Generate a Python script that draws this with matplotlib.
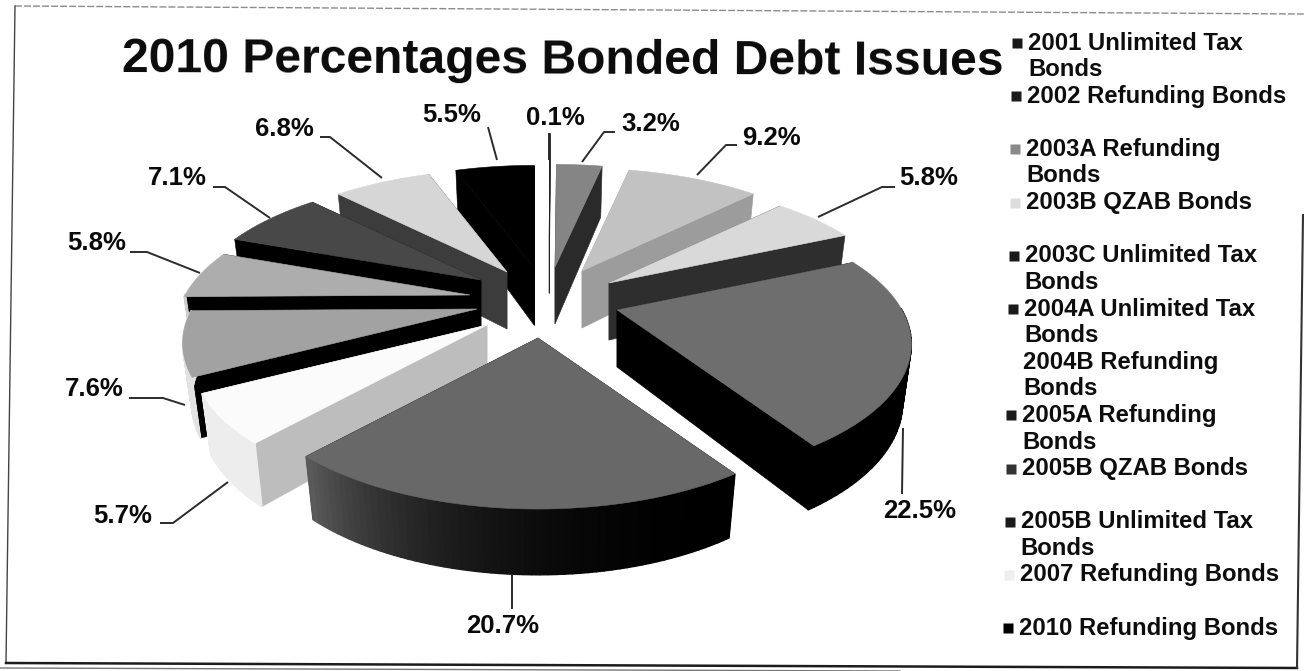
import numpy as np
import matplotlib
matplotlib.use('Agg')
import matplotlib.pyplot as plt
from matplotlib.colors import to_rgb
from matplotlib.patches import Polygon

plt.rcParams['font.family'] = ['Liberation Sans', 'DejaVu Sans']

# Slices, clockwise from twelve o'clock
issues = ['2001 Unlimited Tax\nBonds', '2002 Refunding Bonds', '2003A Refunding\nBonds',
          '2003B QZAB Bonds', '2003C Unlimited Tax\nBonds', '2004A Unlimited Tax\nBonds',
          '2004B Refunding\nBonds', '2005A Refunding\nBonds', '2005B QZAB Bonds',
          '2005B Unlimited Tax\nBonds', '2007 Refunding Bonds', '2010 Refunding Bonds']
percent = [0.1, 3.2, 9.2, 5.8, 22.5, 20.7, 5.7, 7.6, 5.8, 7.1, 6.8, 5.5]

# Greys for the top of each slice, its cut faces and its outer wall
top_colors = ['#222222', '#858585', '#c2c2c2', '#d9d9d9', '#6e6e6e', '#686868',
              '#fbfbfb', '#a2a2a2', '#adadad', '#484848', '#d6d6d6', '#000000']
cut_colors = ['#222222', '#2a2a2a', '#9c9c9c', '#2e2e2e', '#000000', '#000000',
              '#bdbdbd', '#000000', '#000000', '#000000', '#3c3c3c', '#000000']
wall_colors = [('#222222', '#222222'), ('#444444', '#444444'), ('#999999', '#999999'),
               ('#333333', '#333333'), ('#000000', '#000000'), ('#000000', '#5a5a5a'),
               ('#ededed', '#ededed'), ('#e2e2e2', '#e2e2e2'), ('#cccccc', '#cccccc'),
               ('#333333', '#333333'), ('#999999', '#999999'), ('#000000', '#000000')]
key_colors = ['#1a1a1a', '#1a1a1a', '#8a8a8a', '#dddddd', '#1a1a1a', '#1a1a1a',
              '#ffffff', '#1a1a1a', '#333333', '#1a1a1a', '#eeeeee', '#000000']

# Where each exploded slice has its tip on the page
tip_x = [549, 555, 582, 609, 617, 538, 487, 477, 470, 481, 507, 534]
tip_y = [236, 267, 271, 283, 310, 338, 325, 309, 295, 280, 272, 268]

# Label anchor and leader line for each slice
label_x = [555, 651, 771, 929, 920, 503, 123, 94, 97, 177, 284, 452]
label_y = [118, 124, 138, 178, 511, 626, 516, 389, 243, 178, 129, 115]
leader_x = [[549, 549], [615, 604, 582], [737, 726, 697], [895, 882, 818], [903, 902],
            [512, 512], [160, 173, 228], [129, 163, 185], [130, 147, 200], [213, 225, 270],
            [320, 330, 382], [488, 497]]
leader_y = [[133, 160], [132, 132, 162], [145, 145, 175], [187, 187, 217], [428, 494],
            [574, 609], [523, 523, 482], [398, 398, 405], [252, 252, 273], [187, 187, 218],
            [137, 137, 178], [127, 160]]

RADIUS = 285
TILT = 0.45
DISTANCE = 4.0
DEPTH = 57
FLOOR_SHRINK = 0.97


def project(angle):
    # offset from the slice tip for a rim point, plus the wall height there
    depth = np.cos(angle)
    s = DISTANCE / (DISTANCE + depth)
    dx = RADIUS * np.sin(angle) * s
    dy = -RADIUS * TILT * depth * s
    return dx, dy, DEPTH * np.sqrt(s)


def draw_slice(ax, a0, a1, tx, ty, top, cut, wall):
    angles = np.linspace(a0, a1, 60)
    dx, dy, h = project(angles)
    rim_x = tx + dx
    rim_y = ty + dy
    low_x = tx + dx * FLOOR_SHRINK
    low_y = rim_y + h

    # cut faces
    for i in [0, -1]:
        pts = [(tx, ty), (rim_x[i], rim_y[i]), (low_x[i], low_y[i]), (tx, ty + DEPTH)]
        ax.add_patch(Polygon(pts, closed=True, fc=cut, ec=cut, lw=0.4))

    # outer wall only where it faces the viewer, strip by strip so the shade can vary
    c0 = np.array(to_rgb(wall[0]))
    c1 = np.array(to_rgb(wall[1]))
    for i in range(len(angles) - 1):
        if np.cos(angles[i]) > 0 and np.cos(angles[i + 1]) > 0:
            continue
        f = (i / (len(angles) - 2)) ** 2.5
        c = c0 + (c1 - c0) * f
        pts = [(rim_x[i], rim_y[i]), (rim_x[i + 1], rim_y[i + 1]),
               (low_x[i + 1], low_y[i + 1]), (low_x[i], low_y[i])]
        ax.add_patch(Polygon(pts, closed=True, fc=c, ec=c, lw=1.0))

    pts = [(tx, ty)] + list(zip(rim_x, rim_y))
    ax.add_patch(Polygon(pts, closed=True, fc=top, ec=top, lw=0.4))


fig = plt.figure(figsize=(13.04, 6.71), dpi=100)
ax = fig.add_axes([0, 0, 1, 1])
ax.set_xlim(0, 1304)
ax.set_ylim(671, 0)
ax.axis('off')

# Cumulative shares give the start and end angle of every slice
shares = np.array(percent) / sum(percent)
edges = np.concatenate([[0], np.cumsum(shares)]) * 2 * np.pi

# Painted from the back of the pie to the front
order = [11, 0, 1, 10, 2, 3, 9, 8, 7, 4, 6, 5]
for i in order:
    draw_slice(ax, edges[i], edges[i + 1], tip_x[i], tip_y[i],
               top_colors[i], cut_colors[i], wall_colors[i])

# Leader lines and percentage labels
for i in range(len(percent)):
    ax.plot(leader_x[i], leader_y[i], color='#2b2b2b', lw=1.4, solid_capstyle='butt')
    ax.text(label_x[i], label_y[i], f'{percent[i]:.1f}%', fontsize=18.5, fontweight='bold',
            ha='center', va='center', color='#0a0a0a')

ax.text(122, 72, '2010 Percentages Bonded Debt Issues', fontsize=34.6, fontweight='bold',
        ha='left', va='baseline', color='#0a0a0a', rotation=-0.2, rotation_mode='anchor')

# Legend column leans slightly to the left as it goes down
for i, name in enumerate(issues):
    x = 1028 - 0.8 * i
    y = 43 + 53.2 * i
    lines = name.split('\n')
    for j, line in enumerate(lines):
        ax.text(x, y + 26.6 * j, line, fontsize=17.2, fontweight='bold', ha='left', va='center',
                color='#0d0d0d')
    ax.plot([x - 11], [y], marker='s', ms=7.5, color=key_colors[i], mec='none')

# Page rules
ax.plot([15, 1304], [6, 14], color='#8c8c8c', lw=1.0, ls=(0, (5, 1.5)))
ax.plot([15, 6], [6, 663], color='#444444', lw=1.0)
ax.plot([6, 1297], [663, 668], color='#1c1c1c', lw=1.8)
ax.plot([0, 900], [668, 671], color='#777777', lw=1.0)
ax.plot([1303, 1297], [215, 668], color='#333333', lw=1.5)

fig.savefig('out.png', dpi=100)
